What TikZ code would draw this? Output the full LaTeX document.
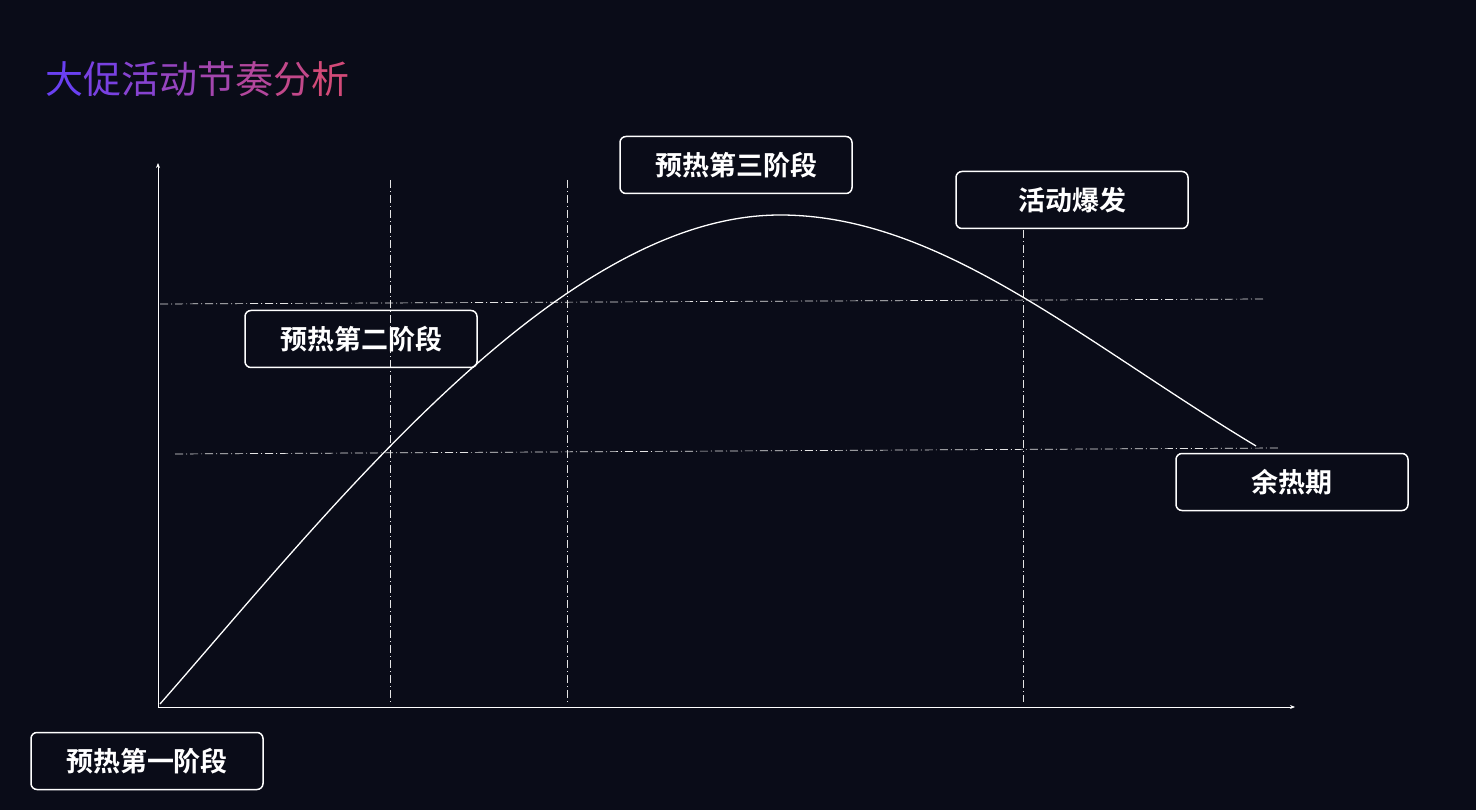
\documentclass[tikz,border=0pt]{standalone}
\usepackage{fontspec}
\newfontfamily\cjk{Noto Sans CJK SC}
\newfontfamily\cjkbold{Noto Sans CJK SC Bold}
\definecolor{bgdark}{HTML}{0A0C18}
\definecolor{titleA}{HTML}{6A40F2}
\definecolor{titleB}{HTML}{D24A78}
\usetikzlibrary{arrows.meta}
\tikzset{
  stagebox/.style={draw=white,line width=1.5pt,rounded corners=6pt,minimum width=232pt,minimum height=57pt,
    text=white,font=\cjkbold\fontsize{27}{27}\selectfont,inner sep=0pt},
  guide/.style={white!80!gray,line width=0.7pt,dash pattern=on 8pt off 3pt on 1pt off 3pt}
}
\begin{document}
\begin{tikzpicture}[x=1pt,y=-1pt]
\fill[bgdark] (0,0) rectangle (1476,810);
\useasboundingbox (0,0) rectangle (1476,810);

% title
\node[anchor=west,inner sep=0pt,font=\cjk\fontsize{38}{38}\selectfont] (title) at (45,79)
  {\color{titleA}大\color{titleB!14!titleA}促\color{titleB!28!titleA}活\color{titleB!42!titleA}动\color{titleB!56!titleA}节\color{titleB!70!titleA}奏\color{titleB!85!titleA}分\color{titleB}析};

% axes
\coordinate (O) at (158,707);
\coordinate (ytop) at (158,163);
\coordinate (xend) at (1295,707);
\draw[white,line width=1pt,-{Stealth[length=5pt,width=4pt]}] (O) -- (ytop);
\draw[white,line width=1pt,-{Stealth[length=5pt,width=4pt]}] (O) -- (xend);

% guides
\coordinate (v1a) at (390,180); \coordinate (v1b) at (390,702);
\coordinate (v2a) at (567,180); \coordinate (v2b) at (567,702);
\coordinate (v3a) at (1023,230); \coordinate (v3b) at (1023,702);
\coordinate (h1a) at (160,304); \coordinate (h1b) at (1265,299);
\coordinate (h2a) at (175,454); \coordinate (h2b) at (1278,448);
\draw[guide] (v1a) -- (v1b);
\draw[guide] (v2a) -- (v2b);
\draw[guide] (v3a) -- (v3b);
\draw[guide] (h1a) -- (h1b);
\draw[guide] (h2a) -- (h2b);

% curve
\coordinate (cstart) at (160,704);
\coordinate (cpeak) at (780,215);
\coordinate (cend) at (1256,446);
\draw[white,line width=1.3pt] (cstart) .. controls (330,510) and (560,215) .. (cpeak)
  .. controls (940,215) and (1080,340) .. (cend);

% stages
\node[stagebox] (s3) at (736,165) {预热第三阶段};
\node[stagebox] (burst) at (1072,200) {活动爆发};
\node[stagebox] (s2) at (361,339) {预热第二阶段};
\node[stagebox] (after) at (1292,482) {余热期};
\node[stagebox] (s1) at (147,761) {预热第一阶段};
\end{tikzpicture}
\end{document}
